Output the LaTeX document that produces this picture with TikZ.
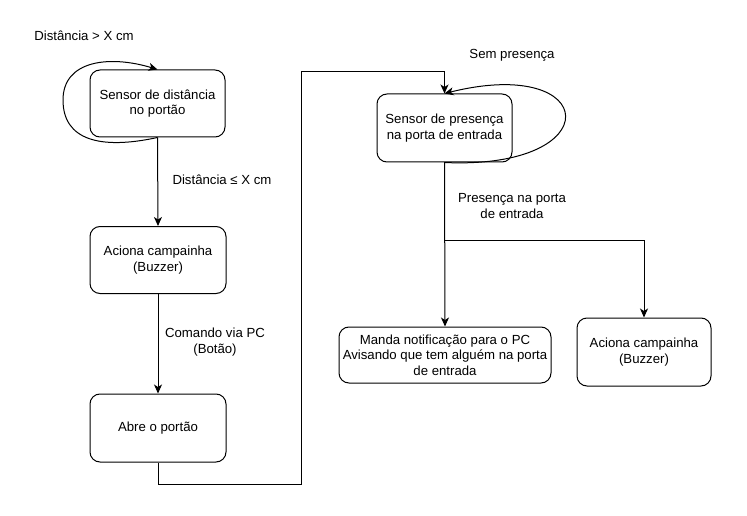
\documentclass[tikz,border=0pt]{standalone}
\usepackage{fontspec}
\setmainfont{Liberation Sans}
\usetikzlibrary{arrows.meta}
\begin{document}
\begin{tikzpicture}[x=1pt,y=-1pt,line width=1pt,
    >={Stealth[length=9pt,width=8pt,inset=2.5pt]},
    every node/.append style={font=\fontsize{13.2}{15.5}\selectfont},
    box/.style={draw,rounded corners=10pt,align=center,inner sep=0pt},
    lbl/.style={align=center,inner sep=0pt}]
    \useasboundingbox (0,0) rectangle (747,516);
    % left column
    \node[box,minimum width=135pt,minimum height=67pt] (S1) at (157.5,103.5) {Sensor de distância\\no portão};
    \node[box,minimum width=136pt,minimum height=67pt] (A1) at (158,260) {Aciona campainha\\(Buzzer)};
    \node[box,minimum width=136pt,minimum height=68pt] (P1) at (158,428) {Abre o portão};
    % right part
    \node[box,minimum width=135pt,minimum height=68pt] (S2) at (444.5,128) {Sensor de presença\\na porta de entrada};
    \node[box,minimum width=212pt,minimum height=56pt] (M1) at (445,355) {Manda notificação para o PC\\Avisando que tem alguém na porta\\de entrada};
    \node[box,minimum width=134pt,minimum height=68pt] (A2) at (644,352) {Aciona campainha\\(Buzzer)};
    % labels
    \node[lbl] (L1) at (84,36) {Distância > X cm};
    \node[lbl] (L2) at (222,180) {Distância ≤ X cm};
    \node[lbl] (L3) at (215,342) {Comando via PC\\(Botão)};
    \node[lbl] (L4) at (512,55) {Sem presença};
    \node[lbl] (L5) at (512,206) {Presença na porta\\de entrada};
    % connectors
    \draw[->] (S1.south) .. controls (100,150) and (63,140) .. (63,100)
        .. controls (63,60) and (110,55) .. (S1.north);
    \draw[->] (S1.south) -- (A1.north);
    \draw[->] (A1.south) -- (P1.north);
    \draw[->] (P1.south) -- ++(0,22) -| (301,72) -| (S2.north);
    \draw[->] (S2.south) .. controls (610,170) and (600,55) .. (S2.north);
    \draw[->] (S2.south) -- (M1.north);
    \draw[->] (S2.south) -- ++(0,78) -| (A2.north);
\end{tikzpicture}
\end{document}
